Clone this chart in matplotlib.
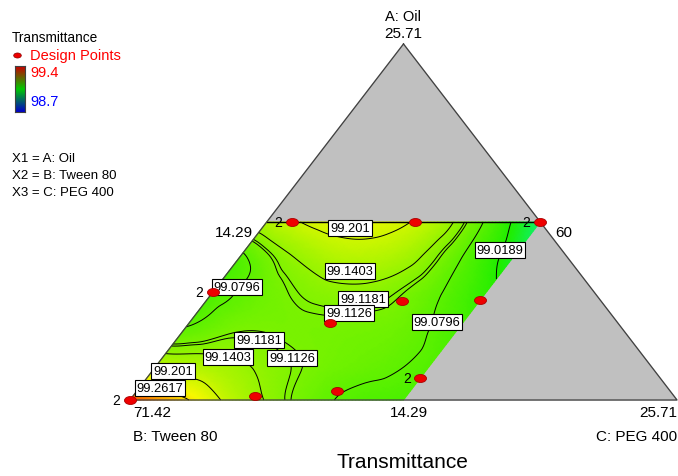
import numpy as np
import matplotlib
matplotlib.use('Agg')
import matplotlib.pyplot as plt
import matplotlib.tri as mtri
from matplotlib.colors import LinearSegmentedColormap
from matplotlib.path import Path
from matplotlib.transforms import Affine2D

plt.rcParams['font.family'] = ['Liberation Sans', 'DejaVu Sans']

# ---------------- data ----------------
# pseudo-component fractions of A (Oil) and C (PEG 400); B (Tween 80) = 1 - A - C
grid_A = [0.0, 0.1, 0.2, 0.3, 0.4, 0.5]
grid_C = [0.0, 0.1, 0.2, 0.3, 0.4, 0.5]
transmittance_grid = [
    [99.350, 99.268, 99.170, 99.110, 99.072, 99.060],   # A = 0.0
    [99.175, 99.160, 99.130, 99.105, 99.090, 99.070],   # A = 0.1
    [99.082, 99.110, 99.108, 99.105, 99.095, 99.058],   # A = 0.2
    [99.065, 99.100, 99.127, 99.127, 99.090, 99.032],   # A = 0.3
    [99.070, 99.140, 99.175, 99.158, 99.085, 98.995],   # A = 0.4
    [99.170, 99.215, 99.222, 99.178, 99.075, 98.950],   # A = 0.5
]
contour_levels = [99.0189, 99.0796, 99.1126, 99.1181, 99.1403, 99.201, 99.2617]
design_A = [0.5, 0.5, 0.5, 0.303, 0.278, 0.216, 0.281, 0.062, 0.025, 0.011, 0.0]
design_C = [0.046, 0.271, 0.5, 0.0, 0.358, 0.258, 0.5, 0.5, 0.366, 0.223, 0.0]
design_reps = [2, 1, 2, 2, 1, 1, 1, 2, 1, 1, 2]
color_range = [98.7, 99.4]
vertex_labels = ["A: Oil", "B: Tween 80", "C: PEG 400"]
vertex_values = ["25.71", "71.42", "25.71"]
constraint_labels = ["14.29", "60", "14.29"]
factor_lines = ["X1 = A: Oil", "X2 = B: Tween 80", "X3 = C: PEG 400"]
title = "Transmittance"

# ---------------- layout ----------------
W, H = 678, 477
X0, YB, SX, SY = 130.0, 401.0, 547.0, 356.0   # pixel placement of the unit triangle


def tern(A, C):
    A = np.asarray(A, float)
    C = np.asarray(C, float)
    return C + A / 2.0, A


def px(xp, yp):
    return (xp - X0) / SX, (YB - yp) / SY


fig = plt.figure(figsize=(W / 100, H / 100), dpi=100)
ax = fig.add_axes([0, 0, 1, 1])
ax.set_xlim(px(0, 0)[0], px(W, 0)[0])
ax.set_ylim(px(0, H)[1], px(0, 0)[1])
ax.axis('off')

# full grey simplex
tx, ty = tern([1, 0, 0, 1], [0, 0, 1, 0])
ax.fill(tx, ty, color='#c0c0c0', zorder=1)
ax.plot(tx, ty, color='#404040', lw=0.9, zorder=6)

# response surface
cmap = LinearSegmentedColormap.from_list(
    'de', [(0.0, '#0000ff'), (0.28, '#00f0c8'), (0.45, '#20ee00'),
           (0.78, '#f8f800'), (1.0, '#ff0000')])
gA, gC = np.meshgrid(grid_A, grid_C, indexing='ij')
gx, gy = tern(gA.ravel(), gC.ravel())
z = np.array(transmittance_grid).ravel()
tri = mtri.Triangulation(gx, gy)
interp = mtri.CubicTriInterpolator(tri, z, kind='geom')
refiner = mtri.UniformTriRefiner(tri)
tri_r, z_r = refiner.refine_field(z, interp, subdiv=4)
ax.tripcolor(tri_r, z_r, cmap=cmap, vmin=color_range[0], vmax=color_range[1],
             shading='gouraud', zorder=2)
ax.tricontour(tri_r, z_r, levels=contour_levels, colors='black',
              linewidths=0.7, zorder=3)

# top boundary of region
bx, by = tern([0.5, 0.5], [0.0, 0.5])
ax.plot(bx, by, color='black', lw=1.0, zorder=4)

# contour labels (level index, pixel position)
label_spots = [(5, 350, 229), (4, 350, 272), (3, 363, 300), (2, 349, 314),
               (1, 237, 288), (0, 500, 251), (1, 437, 323), (3, 259, 341),
               (4, 228, 358), (2, 292, 359), (5, 173, 372), (6, 160, 389)]
for li, xp, yp in label_spots:
    x, y = px(xp, yp)
    ax.text(x, y, f"{contour_levels[li]:g}", fontsize=9.3, ha='center', va='center',
            zorder=8, bbox=dict(boxstyle='square,pad=0.15', fc='white',
                                ec='black', lw=0.8))

# design points
ell = Path.unit_circle().transformed(Affine2D().scale(1.5, 1.0))
dx, dy = tern(design_A, design_C)
ax.scatter(dx, dy, marker=ell, s=75, color='#ee0000', edgecolors='#aa0000',
           linewidths=0.6, zorder=9, clip_on=False)
for x, y, r in zip(dx, dy, design_reps):
    if r > 1:
        ax.annotate(str(r), (x, y), xytext=(-7, 0), textcoords='offset points',
                    fontsize=10, ha='right', va='center', zorder=9)

# vertex and constraint labels
def ptext(xp, yp, s, **kw):
    x, y = px(xp, yp)
    ax.text(x, y, s, **kw)

ptext(403, 17, vertex_labels[0], fontsize=10.5, ha='center', va='center')
ptext(403, 34, vertex_values[0], fontsize=11, ha='center', va='center')
ptext(133, 413, vertex_values[1], fontsize=11, ha='left', va='center')
ptext(133, 437, vertex_labels[1], fontsize=11, ha='left', va='center')
ptext(677, 413, vertex_values[2], fontsize=11, ha='right', va='center')
ptext(677, 437, vertex_labels[2], fontsize=11, ha='right', va='center')
ptext(253, 233, constraint_labels[0], fontsize=11, ha='right', va='center')
ptext(555, 233, constraint_labels[1], fontsize=11, ha='left', va='center')
ptext(409, 413, constraint_labels[2], fontsize=11, ha='center', va='center')
ptext(402, 463, title, fontsize=15, ha='center', va='center')

# legend block
ptext(12, 38, title, fontsize=9.8, ha='left', va='center')
lx, ly = px(17, 56)
ax.scatter([lx], [ly], marker=ell, s=30, color='#ee0000', edgecolors='#880000',
           linewidths=0.5, zorder=9, clip_on=False)
ptext(30, 56, "Design Points", fontsize=10.5, color='#ff0000', ha='left', va='center')
cb_cmap = LinearSegmentedColormap.from_list('leg', ['#0000c8', '#00c800', '#c80000'])
cax = fig.add_axes([15 / W, 1 - 113 / H, 10 / W, 46 / H])
cax.imshow(np.linspace(color_range[0], color_range[1], 100)[::-1, None], aspect='auto',
           cmap=cb_cmap, vmin=color_range[0], vmax=color_range[1])
cax.set_xticks([]); cax.set_yticks([])
for sp in cax.spines.values():
    sp.set_color('#404040'); sp.set_linewidth(0.8)
ptext(30, 73, f"{color_range[1]:g}", fontsize=10.5, color='#ff0000', ha='left', va='center')
ptext(30, 102, f"{color_range[0]:g}", fontsize=10.5, color='#0000ff', ha='left', va='center')
for i, s in enumerate(factor_lines):
    ptext(12, 159 + 17 * i, s, fontsize=9.5, ha='left', va='center')

fig.savefig('out.png', dpi=100)
